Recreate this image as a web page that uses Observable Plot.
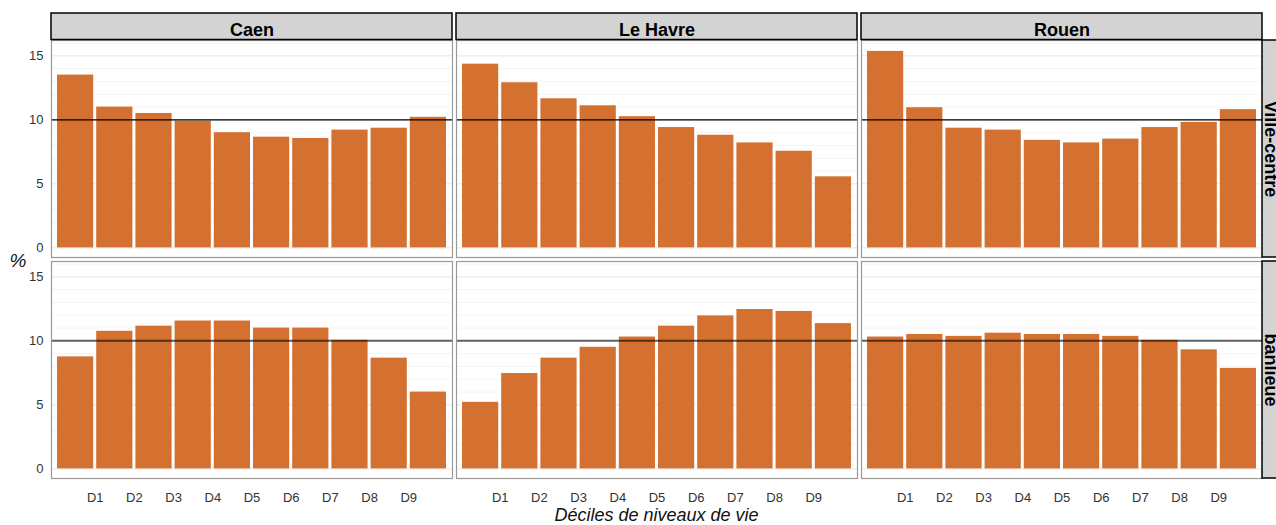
<!DOCTYPE html>
<html>
<head>
<meta charset="utf-8">
<script src="https://cdn.jsdelivr.net/npm/d3@7"></script>
<script src="https://cdn.jsdelivr.net/npm/@observablehq/plot@0.6"></script>
<style>
  html, body { margin: 0; padding: 0; background: #fff; }
  #wrap { position: relative; width: 1276px; height: 525px; overflow: hidden; font-family: "Liberation Sans", Arial, sans-serif; }
  #ytitle { position: absolute; left: 8px; top: 250px; width: 20px; text-align: center; font-style: italic; font-size: 19px; color: #111; line-height: 22px; }
  #xtitle { position: absolute; left: 51px; width: 1211px; top: 506px; text-align: center; font-style: italic; font-size: 18px; color: #111; line-height: 18px; }
</style>
</head>
<body>
<div id="wrap">
  <div id="chart"></div>
  <div id="ytitle">%</div>
  <div id="xtitle">Déciles de niveaux de vie</div>
</div>
<script>
// ---- data ----
const cities = ["Caen", "Le Havre", "Rouen"];
const zones = ["Ville-centre", "banlieue"];
const deciles = [1, 2, 3, 4, 5, 6, 7, 8, 9, 10];
const tickLabels = ["D1", "D2", "D3", "D4", "D5", "D6", "D7", "D8", "D9"];
const yTicks = [0, 5, 10, 15];
const referenceShare = 10;

const caenVilleCentre     = [13.5, 11.0, 10.5, 9.9, 9.0, 8.65, 8.55, 9.2, 9.35, 10.2];
const leHavreVilleCentre  = [14.35, 12.9, 11.65, 11.1, 10.25, 9.4, 8.8, 8.2, 7.55, 5.55];
const rouenVilleCentre    = [15.35, 10.95, 9.35, 9.2, 8.4, 8.2, 8.5, 9.4, 9.8, 10.8];
const caenBanlieue        = [8.75, 10.75, 11.15, 11.55, 11.55, 11.0, 11.0, 10.05, 8.65, 6.0];
const leHavreBanlieue     = [5.2, 7.45, 8.65, 9.5, 10.3, 11.15, 11.95, 12.45, 12.3, 11.35];
const rouenBanlieue       = [10.3, 10.5, 10.35, 10.6, 10.5, 10.5, 10.35, 10.05, 9.3, 7.85];

const series = [
  ["Caen", "Ville-centre", caenVilleCentre],
  ["Le Havre", "Ville-centre", leHavreVilleCentre],
  ["Rouen", "Ville-centre", rouenVilleCentre],
  ["Caen", "banlieue", caenBanlieue],
  ["Le Havre", "banlieue", leHavreBanlieue],
  ["Rouen", "banlieue", rouenBanlieue]
];
const table = series.flatMap(([city, zone, values]) =>
  values.map((value, i) => ({city, zone, decile: deciles[i], value})));

const gridMinor = d3.range(0, 17).filter(v => !yTicks.includes(v));

// ---- layout ----
const W = 1276, H = 525;
const mL = 51, mR = 14, mT = 40, mB = 46;
const gap = 4;
const panelW = (W - mL - mR - gap * (cities.length - 1)) / cities.length;
const panelH = (H - mT - mB - gap * (zones.length - 1)) / zones.length;
const stripH = 27;
const orange = "#d47131";

const chart = Plot.plot({
  width: W,
  height: H,
  marginLeft: mL,
  marginRight: mR,
  marginTop: mT,
  marginBottom: mB,
  style: {fontFamily: "'Liberation Sans', Arial, sans-serif", fontSize: "13px", color: "#333", background: "transparent"},
  fx: {domain: cities, paddingInner: gap / (panelW + gap), paddingOuter: 0, axis: null, label: null},
  fy: {domain: zones, paddingInner: gap / (panelH + gap), paddingOuter: 0, axis: null, label: null},
  x: {domain: [-0.115, 10.115], ticks: tickLabels.map((_, i) => i + 1), tickFormat: d => tickLabels[d - 1], tickSize: 0, tickPadding: 14, label: null},
  y: {domain: [-0.75, 16.2], ticks: yTicks, tickSize: 0, tickPadding: 8, label: null},
  marks: [
    Plot.ruleY(gridMinor, {stroke: "#f4f4f4", strokeWidth: 1}),
    Plot.ruleY(yTicks, {stroke: "#e6e6e6", strokeWidth: 1}),
    Plot.rectY(table, {
      x1: d => d.decile - 1, x2: d => d.decile, y: "value",
      fx: "city", fy: "zone", fill: orange, insetLeft: 1.5, insetRight: 1.5
    }),
    Plot.ruleY(zones.filter(z => z === "Ville-centre"), {y: () => referenceShare, fy: d => d, stroke: "#000", strokeWidth: 1.2}),
    Plot.ruleY(zones.filter(z => z === "banlieue"), {y: () => referenceShare, fy: d => d, stroke: "#000", strokeOpacity: 0.6, strokeWidth: 2}),
    Plot.frame({stroke: "#999", strokeWidth: 1.2}),
    // top strips
    Plot.rect(cities, {fx: d => d, fy: () => "Ville-centre", fill: "#d3d3d3", stroke: "#000", strokeWidth: 1.5,
      insetTop: -stripH, insetBottom: panelH}),
    Plot.text(cities, {fx: d => d, fy: () => "Ville-centre", text: d => d, frameAnchor: "top", lineAnchor: "bottom",
      dy: -5, fontSize: 18, fontWeight: "bold", fill: "#000"}),
    // right strips
    Plot.rect(zones, {fx: () => "Rouen", fy: d => d, fill: "#d3d3d3", stroke: "#000", strokeWidth: 1.5,
      insetLeft: panelW, insetRight: -stripH}),
    Plot.text(zones, {fx: () => "Rouen", fy: d => d, text: d => d, frameAnchor: "right", textAnchor: "middle",
      lineAnchor: "bottom", rotate: 90, dx: 2, fontSize: 18, fontWeight: "bold", fill: "#000"})
  ]
});
document.getElementById("chart").appendChild(chart);
</script>
</body>
</html>
